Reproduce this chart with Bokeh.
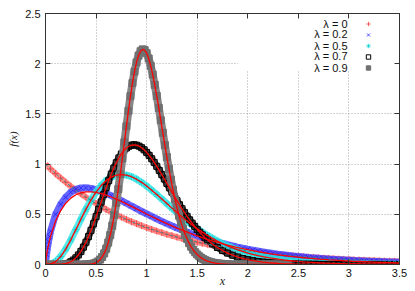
from bokeh.plotting import figure
from bokeh.models import (Range1d, FixedTicker, NumeralTickFormatter, LinearAxis,
                          Legend, LegendItem, Label, BoxAnnotation, CustomLabelingPolicy)
from bokeh.embed import file_html
from bokeh.resources import INLINE

# ---------------- data ----------------
x_ticks = [0, 0.5, 1, 1.5, 2, 2.5, 3, 3.5]
y_ticks = [0, 0.5, 1, 1.5, 2, 2.5]
legend_labels = ["λ = 0", "λ = 0.2", "λ = 0.5", "λ = 0.7", "λ = 0.9"]

x_a = [0.0, 0.05, 0.1, 0.15, 0.2, 0.25, 0.3, 0.35, 0.4, 0.45, 0.5, 0.55, 0.6, 0.65, 0.7, 0.75,
       0.8, 0.85, 0.9, 0.95, 1.0, 1.05, 1.1, 1.15, 1.2, 1.25, 1.3, 1.35, 1.4, 1.45, 1.5, 1.55,
       1.6, 1.65, 1.7, 1.75, 1.8, 1.85, 1.9, 1.95, 2.0, 2.05, 2.1, 2.15, 2.2, 2.25, 2.3, 2.35,
       2.4, 2.45, 2.5, 2.55, 2.6, 2.65, 2.7, 2.75, 2.8, 2.85, 2.9, 2.95, 3.0, 3.05, 3.1, 3.15,
       3.2, 3.25, 3.3, 3.35, 3.4, 3.45, 3.5]

# lambda = 0
y0 = [1.000, 0.951, 0.905, 0.861, 0.819, 0.779, 0.741, 0.705, 0.670, 0.638, 0.607, 0.577,
      0.549, 0.522, 0.497, 0.472, 0.449, 0.427, 0.407, 0.387, 0.368, 0.350, 0.333, 0.317,
      0.301, 0.287, 0.273, 0.259, 0.247, 0.235, 0.223, 0.212, 0.202, 0.192, 0.183, 0.174,
      0.165, 0.157, 0.150, 0.142, 0.135, 0.129, 0.122, 0.116, 0.111, 0.105, 0.100, 0.095,
      0.091, 0.086, 0.082, 0.078, 0.074, 0.071, 0.067, 0.064, 0.061, 0.058, 0.055, 0.052,
      0.050, 0.047, 0.045, 0.043, 0.041, 0.039, 0.037, 0.035, 0.033, 0.032, 0.030]

# lambda = 0.2
x2 = [0.0, 0.01, 0.02, 0.03, 0.04, 0.05, 0.1, 0.15, 0.2, 0.25, 0.3, 0.35, 0.4, 0.45, 0.5, 0.55,
      0.6, 0.65, 0.7, 0.75, 0.8, 0.85, 0.9, 0.95, 1.0, 1.05, 1.1, 1.15, 1.2, 1.25, 1.3, 1.35,
      1.4, 1.45, 1.5, 1.55, 1.6, 1.65, 1.7, 1.75, 1.8, 1.85, 1.9, 1.95, 2.0, 2.05, 2.1, 2.15,
      2.2, 2.25, 2.3, 2.35, 2.4, 2.45, 2.5, 2.55, 2.6, 2.65, 2.7, 2.75, 2.8, 2.85, 2.9, 2.95,
      3.0, 3.05, 3.1, 3.15, 3.2, 3.25, 3.3, 3.35, 3.4, 3.45, 3.5]
y2_sim = [0.0, 0.10, 0.17, 0.23, 0.28, 0.33, 0.50, 0.60, 0.67, 0.72, 0.748, 0.762, 0.765, 0.758,
          0.745, 0.728, 0.708, 0.686, 0.662, 0.636, 0.610, 0.583, 0.556, 0.530, 0.504, 0.479,
          0.454, 0.430, 0.407, 0.385, 0.363, 0.343, 0.323, 0.304, 0.286, 0.269, 0.253, 0.238,
          0.223, 0.210, 0.197, 0.185, 0.173, 0.162, 0.152, 0.143, 0.134, 0.126, 0.118, 0.110,
          0.103, 0.097, 0.091, 0.085, 0.080, 0.075, 0.070, 0.066, 0.062, 0.058, 0.054, 0.051,
          0.048, 0.045, 0.042, 0.039, 0.037, 0.035, 0.033, 0.031, 0.029, 0.027, 0.025, 0.024,
          0.022]
y2_fit = [0.0, 0.090, 0.149, 0.198, 0.242, 0.2807, 0.4325, 0.5371, 0.6105, 0.6613, 0.6947,
          0.7145, 0.7236, 0.7242, 0.7181, 0.7067, 0.6912, 0.6724, 0.6513, 0.6284, 0.6043,
          0.5794, 0.5542, 0.5287, 0.5034, 0.4784, 0.4539, 0.4300, 0.4067, 0.3842, 0.3626,
          0.3417, 0.3218, 0.3027, 0.2845, 0.2671, 0.2506, 0.2350, 0.2202, 0.2062, 0.1930,
          0.1805, 0.1687, 0.1576, 0.1471, 0.1373, 0.1281, 0.1195, 0.1114, 0.1038, 0.0967,
          0.0900, 0.0838, 0.0780, 0.0725, 0.0674, 0.0627, 0.0583, 0.0541, 0.0503, 0.0467,
          0.0434, 0.0403, 0.0373, 0.0347, 0.0321, 0.0298, 0.0276, 0.0256, 0.0238, 0.0220,
          0.0204, 0.0189, 0.0175, 0.0162]

# lambda = 0.5
y5 = [0.0, 0.0044, 0.0286, 0.0790, 0.1534, 0.2453, 0.3470, 0.4511, 0.5513, 0.6427, 0.7218,
      0.7865, 0.8361, 0.8703, 0.8899, 0.8962, 0.8904, 0.8744, 0.8498, 0.8183, 0.7815, 0.7407,
      0.6972, 0.6523, 0.6068, 0.5615, 0.5171, 0.4741, 0.4329, 0.3938, 0.3569, 0.3224, 0.2904,
      0.2607, 0.2335, 0.2085, 0.1858, 0.1651, 0.1465, 0.1296, 0.1145, 0.1010, 0.0889, 0.0781,
      0.0685, 0.0600, 0.0525, 0.0458, 0.0399, 0.0348, 0.0303, 0.0263, 0.0228, 0.0198, 0.0171,
      0.0148, 0.0128, 0.0111, 0.0095, 0.0082, 0.0071, 0.0061, 0.0052, 0.0045, 0.0038, 0.0033,
      0.0028, 0.0024, 0.0021, 0.0018, 0.0015]

# lambda = 0.7
x7 = [0.0, 0.05, 0.1, 0.15, 0.2, 0.25, 0.275, 0.3, 0.325, 0.35, 0.375, 0.4, 0.425, 0.45, 0.475,
      0.5, 0.525, 0.55, 0.575, 0.6, 0.625, 0.65, 0.675, 0.7, 0.725, 0.75, 0.775, 0.8, 0.825,
      0.85, 0.875, 0.9, 0.925, 0.95, 0.975, 1.0, 1.025, 1.05, 1.075, 1.1, 1.125, 1.15, 1.175,
      1.2, 1.225, 1.25, 1.275, 1.3, 1.325, 1.35, 1.375, 1.4, 1.425, 1.45, 1.475, 1.5, 1.525,
      1.55, 1.575, 1.6, 1.65, 1.7, 1.75, 1.8, 1.85, 1.9, 1.95, 2.0, 2.05, 2.1, 2.15, 2.2, 2.25,
      2.3, 2.35, 2.4, 2.45, 2.5, 2.55, 2.6, 2.65, 2.7, 2.75, 2.8, 2.85, 2.9, 2.95, 3.0, 3.05,
      3.1, 3.15, 3.2, 3.25, 3.3, 3.35, 3.4, 3.45, 3.5]
y7 = [0.0, 0.0, 0.0002, 0.0017, 0.0086, 0.0275, 0.0438, 0.0660, 0.0947, 0.1302, 0.1728, 0.2222,
      0.2782, 0.3398, 0.4064, 0.4765, 0.5488, 0.6223, 0.6955, 0.7669, 0.8353, 0.9003, 0.9598,
      1.0136, 1.0611, 1.1013, 1.1346, 1.1603, 1.1777, 1.1887, 1.1923, 1.1884, 1.1787, 1.1633,
      1.1426, 1.1167, 1.0869, 1.0534, 1.0166, 0.9778, 0.9371, 0.8949, 0.8517, 0.8077, 0.7639,
      0.7204, 0.6775, 0.6359, 0.5947, 0.5550, 0.5168, 0.4799, 0.4448, 0.4113, 0.3796, 0.3495,
      0.3212, 0.2948, 0.2699, 0.2467, 0.2051, 0.1694, 0.1391, 0.1136, 0.0923, 0.0746, 0.0599,
      0.0479, 0.0382, 0.0303, 0.0240, 0.0189, 0.0148, 0.0116, 0.0090, 0.0070, 0.0054, 0.0042,
      0.0032, 0.0025, 0.0019, 0.0014, 0.0011, 0.0008, 0.0006, 0.0005, 0.0004, 0.0003, 0.0002,
      0.0002, 0.0001, 0.0001, 0.0001, 0.0001, 0.0, 0.0, 0.0, 0.0]

# lambda = 0.9 (the simulated values stop near x = 2.4)
x9 = [0.0, 0.05, 0.1, 0.15, 0.2, 0.25, 0.3, 0.35,
      0.40, 0.42, 0.44, 0.46, 0.48, 0.50, 0.52, 0.54, 0.56, 0.58, 0.60, 0.62, 0.64, 0.66, 0.68,
      0.70, 0.72, 0.74, 0.76, 0.78, 0.80, 0.82, 0.84, 0.86, 0.88, 0.90, 0.92, 0.94, 0.96, 0.98,
      1.00, 1.02, 1.04, 1.06, 1.08, 1.10, 1.12, 1.14, 1.16, 1.18, 1.20, 1.22, 1.24, 1.26, 1.28,
      1.30, 1.32, 1.34, 1.36, 1.38, 1.40, 1.42, 1.44, 1.46, 1.48, 1.50, 1.52, 1.54, 1.56, 1.58,
      1.60, 1.62, 1.64, 1.66, 1.68, 1.70, 1.72, 1.74, 1.76, 1.78, 1.80,
      1.85, 1.9, 1.95, 2.0, 2.05, 2.1, 2.15, 2.2, 2.25, 2.3, 2.35, 2.4]
y9 = [0.0, 0.0, 0.0, 0.0, 0.0, 0.0, 0.0, 0.0,
      0.0008, 0.0016, 0.0032, 0.0061, 0.0110, 0.0189, 0.0311, 0.0492, 0.0750, 0.1104, 0.1576,
      0.2181, 0.2935, 0.3849, 0.4922, 0.6152, 0.7515, 0.8996, 1.0557, 1.2167, 1.3761, 1.5312,
      1.6771, 1.8080, 1.9217, 2.0128, 2.0811, 2.1242, 2.1426, 2.1357, 2.1047, 2.0519, 1.9800,
      1.8918, 1.7898, 1.6780, 1.5591, 1.4363, 1.3119, 1.1889, 1.0692, 0.9543, 0.8456, 0.7439,
      0.6500, 0.5642, 0.4868, 0.4174, 0.3557, 0.3013, 0.2538, 0.2126, 0.1772, 0.1469, 0.1212,
      0.0994, 0.0812, 0.0660, 0.0534, 0.0430, 0.0345, 0.0276, 0.0219, 0.0174, 0.0137, 0.0108,
      0.0084, 0.0066, 0.0051, 0.0040, 0.0031,
      0.0015, 0.0007, 0.0003, 0.0001, 0.0, 0.0, 0.0, 0.0, 0.0, 0.0, 0.0, 0.0]

# ---------------- styling ----------------
SANS = "Liberation Sans"
SERIF = "Liberation Serif"
AX = "#333333"
RED = "#ff0000"

p = figure(width=415, height=291, output_backend="svg", toolbar_location=None,
           x_range=Range1d(0, 3.5), y_range=Range1d(0, 2.5),
           min_border_left=45, min_border_right=16, min_border_top=13, min_border_bottom=27,
           background_fill_color="white", border_fill_color="white")
p.outline_line_color = AX
p.outline_line_width = 1

xt = FixedTicker(ticks=x_ticks)
yt = FixedTicker(ticks=y_ticks)
fmt = NumeralTickFormatter(format="0.[0]")
hide_all = CustomLabelingPolicy(code="""
const keep = [];
for (const i of indices) keep.push(i);
for (const i of keep) indices.unset(i);
return indices;
""")


def style_axis(ax, ticker, show_labels):
    ax.ticker = ticker
    ax.formatter = fmt
    ax.major_tick_in = 5
    ax.major_tick_out = 0
    ax.minor_tick_line_color = None
    ax.axis_line_color = AX
    ax.major_tick_line_color = AX
    if show_labels:
        ax.major_label_text_font = SANS
        ax.major_label_text_font_size = "11px"
        ax.major_label_text_color = "#111111"
        ax.major_label_standoff = 5
    else:
        ax.major_label_text_font_size = "4px"
        ax.major_label_standoff = 0
        ax.major_label_policy = hide_all


style_axis(p.xaxis[0], xt, True)
style_axis(p.yaxis[0], yt, True)
p.xaxis[0].major_label_standoff = 4
p.xaxis[0].axis_label = "x"
p.xaxis[0].axis_label_text_font = SERIF
p.xaxis[0].axis_label_text_font_style = "italic"
p.xaxis[0].axis_label_text_font_size = "12px"
p.xaxis[0].axis_label_text_color = "#222222"
p.xaxis[0].axis_label_standoff = -6
p.yaxis[0].axis_label = "f(x)"
p.yaxis[0].axis_label_text_font = SERIF
p.yaxis[0].axis_label_text_font_style = "italic"
p.yaxis[0].axis_label_text_font_size = "11px"
p.yaxis[0].axis_label_text_color = "#222222"
p.yaxis[0].axis_label_standoff = 3

top_ax = LinearAxis()
style_axis(top_ax, xt, False)
p.add_layout(top_ax, "above")
right_ax = LinearAxis()
style_axis(right_ax, yt, False)
p.add_layout(right_ax, "right")

p.xgrid.ticker = xt
p.ygrid.ticker = yt
for g in (p.xgrid[0], p.ygrid[0]):
    g.grid_line_color = "#a8a8a8"
    g.grid_line_dash = "1 2"
    g.grid_line_width = 1

# white area behind the key (hides grid there)
p.add_layout(BoxAnnotation(left=1.905, bottom=1.93, fill_color="white", fill_alpha=1,
                           line_color=None, level="underlay"))

# ---------------- dense data bands + markers ----------------
p.line(x_a, y0, line_color="#ff7a7a", line_alpha=0.85, line_width=6)
r0 = p.scatter(x_a, y0, marker="cross", size=7, line_color="#ff2a2a", line_alpha=0.7, line_width=1)

p.line(x2, y2_sim, line_color="#4040ff", line_alpha=0.8, line_width=7)
r2 = p.scatter(x2, y2_sim, marker="x", size=7, line_color="#1515ff", line_alpha=0.7, line_width=1)

p.line(x_a, y5, line_color="#3ce8e8", line_alpha=0.85, line_width=7)
r5 = p.scatter(x_a, y5, marker="asterisk", size=7, line_color="#00d0d0", line_alpha=0.7, line_width=1)

p.line(x7, y7, line_color="#2a2a2a", line_alpha=0.9, line_width=7)
r7 = p.scatter(x7, y7, marker="square", size=6, fill_color=None, line_color="#000000", line_width=1)

p.line(x9, y9, line_color="#808080", line_alpha=0.95, line_width=8)
r9 = p.scatter(x9, y9, marker="square", size=7, fill_color="#707070", line_color="#707070", line_width=1)

# ---------------- fit lines ----------------
p.line(x_a, y0, line_color="#2f8f8f", line_width=1, line_dash="3 2")
p.line(x2, y2_fit, line_color=RED, line_width=1.3)
p.line(x_a, y5, line_color=RED, line_width=1.3)
p.line(x7, y7, line_color=RED, line_width=1.3)
p.line(x9, y9, line_color=RED, line_width=1.3)

# ---------------- key ----------------
renderers = [r0, r2, r5, r7, r9]
legend = Legend(items=[LegendItem(label=" ", renderers=[r]) for r in renderers],
                location=(317, 191), orientation="vertical",
                glyph_width=12, glyph_height=11, spacing=0, padding=0, margin=0,
                label_width=0, label_standoff=0, label_text_font_size="6px",
                background_fill_alpha=0, border_line_color=None)
p.add_layout(legend)

key_y = [2.400, 2.291, 2.181, 2.072, 1.962]
for lab, yy in zip(legend_labels, key_y):
    p.add_layout(Label(x=2.986, y=yy, text=lab, text_align="right", text_baseline="middle",
                       text_font=SANS, text_font_size="11px", text_color="#111111"))

open("out.html", "w").write(file_html(p, INLINE))
